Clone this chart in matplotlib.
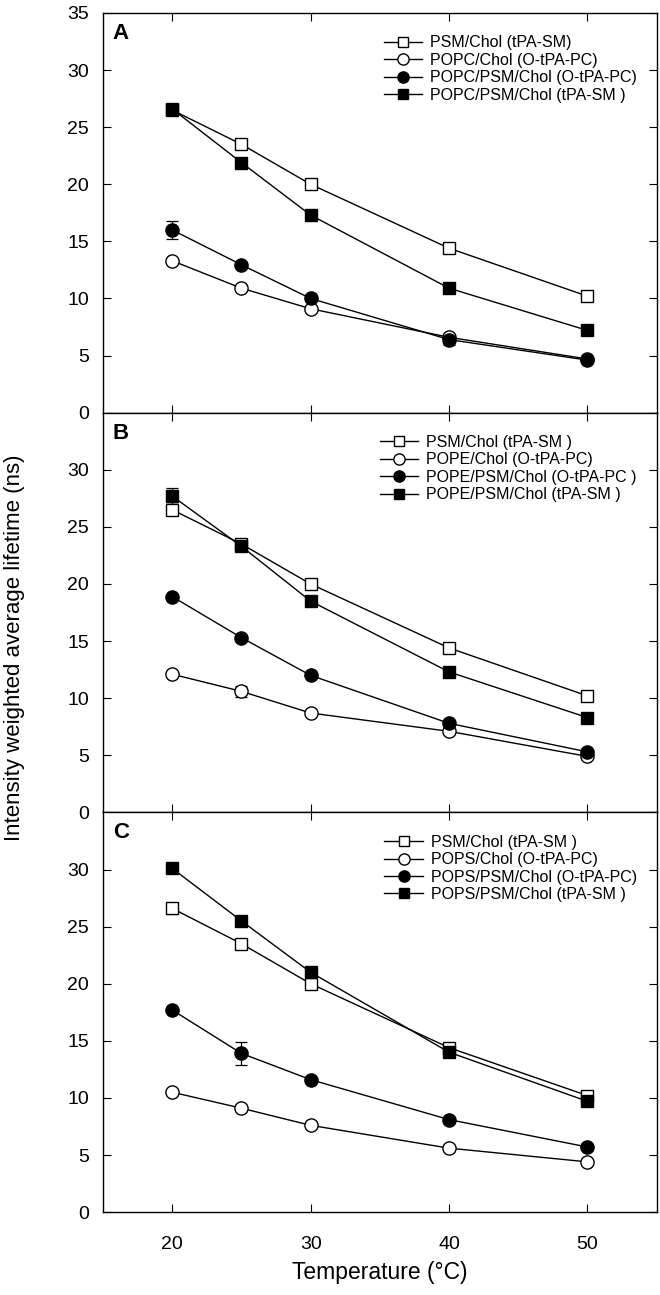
import matplotlib.pyplot as plt
from matplotlib.lines import Line2D

plt.rcParams["font.family"] = ["Liberation Sans", "DejaVu Sans"]

temps = [20, 25, 30, 40, 50]

# panel A
a_psm = [26.5, 23.5, 20.0, 14.4, 10.2]
a_popc = [13.3, 10.9, 9.1, 6.6, 4.7]
a_popc_psm_pc = [16.0, 12.95, 10.0, 6.4, 4.6]
a_popc_psm_sm = [26.6, 21.9, 17.3, 10.9, 7.2]
a_err_psm = [0.4, 0, 0, 0, 0]
a_err_popc = [0, 0, 0, 0, 0]
a_err_pc = [0.8, 0, 0, 0.45, 0]
a_err_sm = [0.3, 0, 0, 0, 0]

# panel B
b_psm = [26.5, 23.5, 20.0, 14.4, 10.2]
b_pope = [12.1, 10.6, 8.7, 7.1, 4.9]
b_pope_psm_pc = [18.9, 15.3, 12.0, 7.8, 5.3]
b_pope_psm_sm = [27.7, 23.3, 18.5, 12.3, 8.3]
b_err_psm = [0.5, 0.2, 0, 0, 0]
b_err_pope = [0, 0.5, 0, 0, 0]
b_err_pc = [0, 0, 0, 0, 0]
b_err_sm = [0.7, 0, 0, 0, 0]

# panel C
c_psm = [26.6, 23.5, 20.0, 14.4, 10.2]
c_pops = [10.5, 9.1, 7.6, 5.6, 4.4]
c_pops_psm_pc = [17.7, 13.9, 11.6, 8.1, 5.7]
c_pops_psm_sm = [30.1, 25.5, 21.0, 14.0, 9.7]
c_err_psm = [0.5, 0, 0, 0, 0]
c_err_pops = [0, 0, 0, 0, 0]
c_err_pc = [0, 1.0, 0, 0, 0]
c_err_sm = [0, 0, 0, 0, 0]

panels = [
    ("A", [
        ("PSM/Chol (tPA-SM)", a_psm, a_err_psm, "s", "white"),
        ("POPC/Chol (O-tPA-PC)", a_popc, a_err_popc, "o", "white"),
        ("POPC/PSM/Chol (O-tPA-PC)", a_popc_psm_pc, a_err_pc, "o", "black"),
        ("POPC/PSM/Chol (tPA-SM )", a_popc_psm_sm, a_err_sm, "s", "black"),
    ]),
    ("B", [
        ("PSM/Chol (tPA-SM )", b_psm, b_err_psm, "s", "white"),
        ("POPE/Chol (O-tPA-PC)", b_pope, b_err_pope, "o", "white"),
        ("POPE/PSM/Chol (O-tPA-PC )", b_pope_psm_pc, b_err_pc, "o", "black"),
        ("POPE/PSM/Chol (tPA-SM )", b_pope_psm_sm, b_err_sm, "s", "black"),
    ]),
    ("C", [
        ("PSM/Chol (tPA-SM )", c_psm, c_err_psm, "s", "white"),
        ("POPS/Chol (O-tPA-PC)", c_pops, c_err_pops, "o", "white"),
        ("POPS/PSM/Chol (O-tPA-PC)", c_pops_psm_pc, c_err_pc, "o", "black"),
        ("POPS/PSM/Chol (tPA-SM )", c_pops_psm_sm, c_err_sm, "s", "black"),
    ]),
]

fig, axes = plt.subplots(3, 1, figsize=(6.6, 12.95), dpi=100, sharex=True)
fig.subplots_adjust(left=0.156, right=0.995, top=0.99, bottom=0.064, hspace=0)

for ax, (letter, series) in zip(axes, panels):
    handles = []
    for label, vals, errs, mk, fc in series:
        ms = 9.5 if mk == "o" else 9
        # error bars only where there is one, drawn under the markers
        ex = [t for t, e in zip(temps, errs) if e > 0]
        ey = [v for v, e in zip(vals, errs) if e > 0]
        ee = [e for e in errs if e > 0]
        if ex:
            ax.errorbar(ex, ey, yerr=ee, fmt="none", ecolor="black",
                        elinewidth=0.9, capsize=4, capthick=0.9, zorder=2)
        ax.plot(temps, vals, color="black", lw=1.0, marker=mk, ms=ms,
                mfc=fc, mec="black", mew=1.0, zorder=3)
        handles.append(Line2D([], [], color="black", lw=1.0, marker=mk,
                              ms=ms * 0.85, mfc=fc, mec="black", mew=1.0,
                              label=label))
    ax.set_xlim(15, 55)
    ax.set_ylim(0, 35)
    if letter == "A":
        ax.set_yticks(range(0, 36, 5))
    else:
        ax.set_yticks(range(0, 31, 5))
    ax.set_xticks([20, 30, 40, 50])
    ax.tick_params(direction="in", top=True, right=True, length=6,
                   width=0.8, labelsize=14)
    ax.tick_params(axis="y", pad=10)
    ax.tick_params(axis="x", pad=17)
    for s in ax.spines.values():
        s.set_linewidth(1.0)
    ax.text(0.018, 0.975, letter, transform=ax.transAxes, fontsize=16,
            fontweight="bold", va="top", ha="left")
    ax.legend(handles=handles, loc="upper right", bbox_to_anchor=(0.99, 0.98),
              frameon=False, fontsize=11.5, handlelength=2.4,
              handletextpad=0.5, labelspacing=0.15)

axes[-1].set_xlabel("Temperature (°C)", fontsize=16.5, labelpad=6)
fig.text(0.022, 0.5, "Intensity weighted average lifetime (ns)", rotation=90,
         va="center", ha="center", fontsize=16)

fig.savefig("out.png", dpi=100)
